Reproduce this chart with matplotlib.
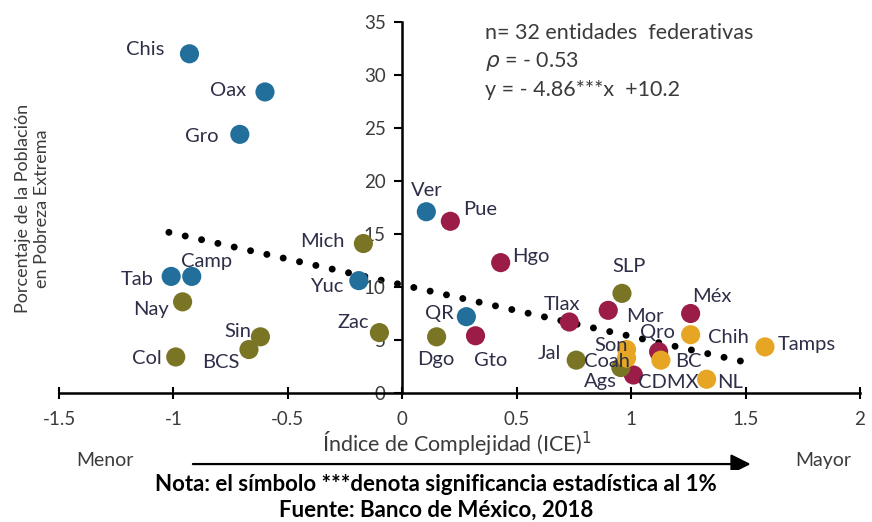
import matplotlib
matplotlib.use("Agg")
import matplotlib.pyplot as plt
from matplotlib.patches import FancyArrowPatch, Rectangle

# Entidades federativas: índice de complejidad (x) y pobreza extrema (%)
estados = ["Chis", "Oax", "Gro", "Ver", "Tab", "Camp", "Yuc", "QR",
           "Pue", "Hgo", "Tlax", "Mor", "Méx", "Qro", "CDMX", "Gto",
           "Nay", "Col", "Sin", "BCS", "Mich", "Zac", "Dgo", "SLP", "Jal", "Ags",
           "Chih", "Tamps", "Son", "Coah", "BC", "NL"]
ice = [-0.93, -0.60, -0.71, 0.105, -1.01, -0.92, -0.19, 0.28,
       0.21, 0.43, 0.73, 0.90, 1.26, 1.12, 1.01, 0.32,
       -0.96, -0.99, -0.62, -0.67, -0.17, -0.10, 0.15, 0.96, 0.76, 0.955,
       1.26, 1.585, 0.98, 0.98, 1.13, 1.33]
pobreza = [32.0, 28.4, 24.4, 17.1, 11.0, 11.0, 10.6, 7.2,
           16.2, 12.3, 6.7, 7.8, 7.5, 3.9, 1.7, 5.4,
           8.6, 3.4, 5.3, 4.1, 14.1, 5.7, 5.3, 9.4, 3.1, 2.4,
           5.5, 4.35, 4.1, 3.3, 3.1, 1.3]
region = ["sur"] * 8 + ["centro"] * 8 + ["centro_norte"] * 10 + ["norte"] * 6

colores = {"sur": "#236f9b", "centro": "#9b1d47",
           "centro_norte": "#7a7425", "norte": "#e6a623"}

# desplazamiento de cada etiqueta respecto a su punto (pixeles)
offs = {"Chis": (-44, 4), "Oax": (-37, 1), "Gro": (-38, -2), "Ver": (0, 21),
        "Tab": (-34, -3), "Camp": (15, 15), "Yuc": (-32, -6), "QR": (-27, 3),
        "Pue": (30, 12), "Hgo": (30, 6), "Tlax": (-7, 17), "Mor": (37, -6),
        "Méx": (21, 17), "Qro": (-1, 19), "CDMX": (35, -8), "Gto": (15, -25),
        "Nay": (-32, -8), "Col": (-29, -2), "Sin": (-23, 5), "BCS": (-28, -13),
        "Mich": (-41, 2), "Zac": (-26, 10), "Dgo": (-1, -23), "SLP": (7, 27),
        "Jal": (-27, 7), "Ags": (-20, -14), "Chih": (38, -3), "Tamps": (42, 2),
        "Son": (-15, 4), "Coah": (-20, -3), "BC": (27, -1), "NL": (23, -3)}

# tendencia lineal reportada: y = -4.86x + 10.2
pend, inter = -4.86, 10.2
x_tend = [-1.02, 1.5]

plt.rcParams["font.family"] = ["Lato", "DejaVu Sans"]
texto = "#3b3b3b"

fig = plt.figure(figsize=(8.72, 5.22), dpi=100)
ax = fig.add_axes([0.0677, 0.2471, 0.9185, 0.7108])

y_tend = [pend * x + inter for x in x_tend]
ax.plot(x_tend, y_tend, color="black", lw=5,
        ls=(0, (0.01, 2.4)), dash_capstyle="round", zorder=1)

for e, x, y, r in zip(estados, ice, pobreza, region):
    ax.scatter(x, y, s=190, color=colores[r], edgecolors="none", zorder=2)
for e, x, y in zip(estados, ice, pobreza):
    dx, dy = offs[e]
    ax.annotate(e, (x, y), textcoords="offset pixels", xytext=(dx, dy),
                ha="center", va="center", fontsize=14.5, color="#2e2e48",
                zorder=3)

ax.set_xlim(-1.5, 2)
ax.set_ylim(0, 35)
ax.spines["left"].set_position(("data", 0))
ax.spines["bottom"].set_position(("data", 0))
ax.spines["top"].set_visible(False)
ax.spines["right"].set_visible(False)
for s in ("left", "bottom"):
    ax.spines[s].set_linewidth(1.8)
ax.set_xticks([-1.5, -1, -0.5, 0, 0.5, 1, 1.5, 2])
ax.set_xticklabels(["-1.5", "-1", "-0.5", "0", "0.5", "1", "1.5", "2"])
ax.set_yticks(range(0, 36, 5))
ax.tick_params(axis="x", direction="inout", length=8, width=1.5,
               pad=9, labelsize=13.5, labelcolor=texto)
ax.tick_params(axis="y", direction="out", length=6, width=1.5,
               pad=6, labelsize=13.5, labelcolor=texto)
ax.patch.set_visible(False)

ax.text(0.36, 34.0, "n= 32 entidades  federativas", fontsize=15.5,
        color=texto, va="center")
ax.text(0.36, 31.3, r"$\rho$ = - 0.53", fontsize=15.5, color=texto,
        va="center")
ax.text(0.36, 28.6, "y = - 4.86***x  +10.2", fontsize=15.5, color=texto,
        va="center")

fig.text(0.037, 0.60, "Porcentaje de la Población\nen Pobreza Extrema",
         rotation=90, ha="center", va="center", fontsize=13, color=texto,
         linespacing=1.25)
fig.text(0.524, 0.150, "Índice de Complejidad (ICE)$^1$", ha="center",
         va="center", fontsize=15.5, color=texto)
fig.text(0.120, 0.118, "Menor", ha="center", va="center", fontsize=14,
         color=texto)
fig.text(0.944, 0.118, "Mayor", ha="center", va="center", fontsize=14,
         color=texto)
fig.patches.append(FancyArrowPatch(
    (0.218, 0.111), (0.864, 0.111), transform=fig.transFigure,
    arrowstyle="-|>,head_length=1.0,head_width=0.5", color="black", lw=1.6,
    mutation_scale=12))
# franja blanca de la nota, tapa la parte baja de Menor / Mayor
fig.patches.append(Rectangle((0, 0), 1, 0.100, transform=fig.transFigure,
                             facecolor="white", edgecolor="none", zorder=5))

nota = ["Liberation Sans Narrow", "Lato", "DejaVu Sans"]
fig.text(0.5, 0.072, "Nota: el símbolo ***denota significancia estadística al 1%",
         ha="center", va="center", fontsize=16, fontweight="bold",
         family=nota, color="black", zorder=6)
fig.text(0.5, 0.022, "Fuente: Banco de México, 2018", ha="center",
         va="center", fontsize=16, fontweight="bold", family=nota,
         color="black", zorder=6)

fig.savefig("out.png", dpi=100)
